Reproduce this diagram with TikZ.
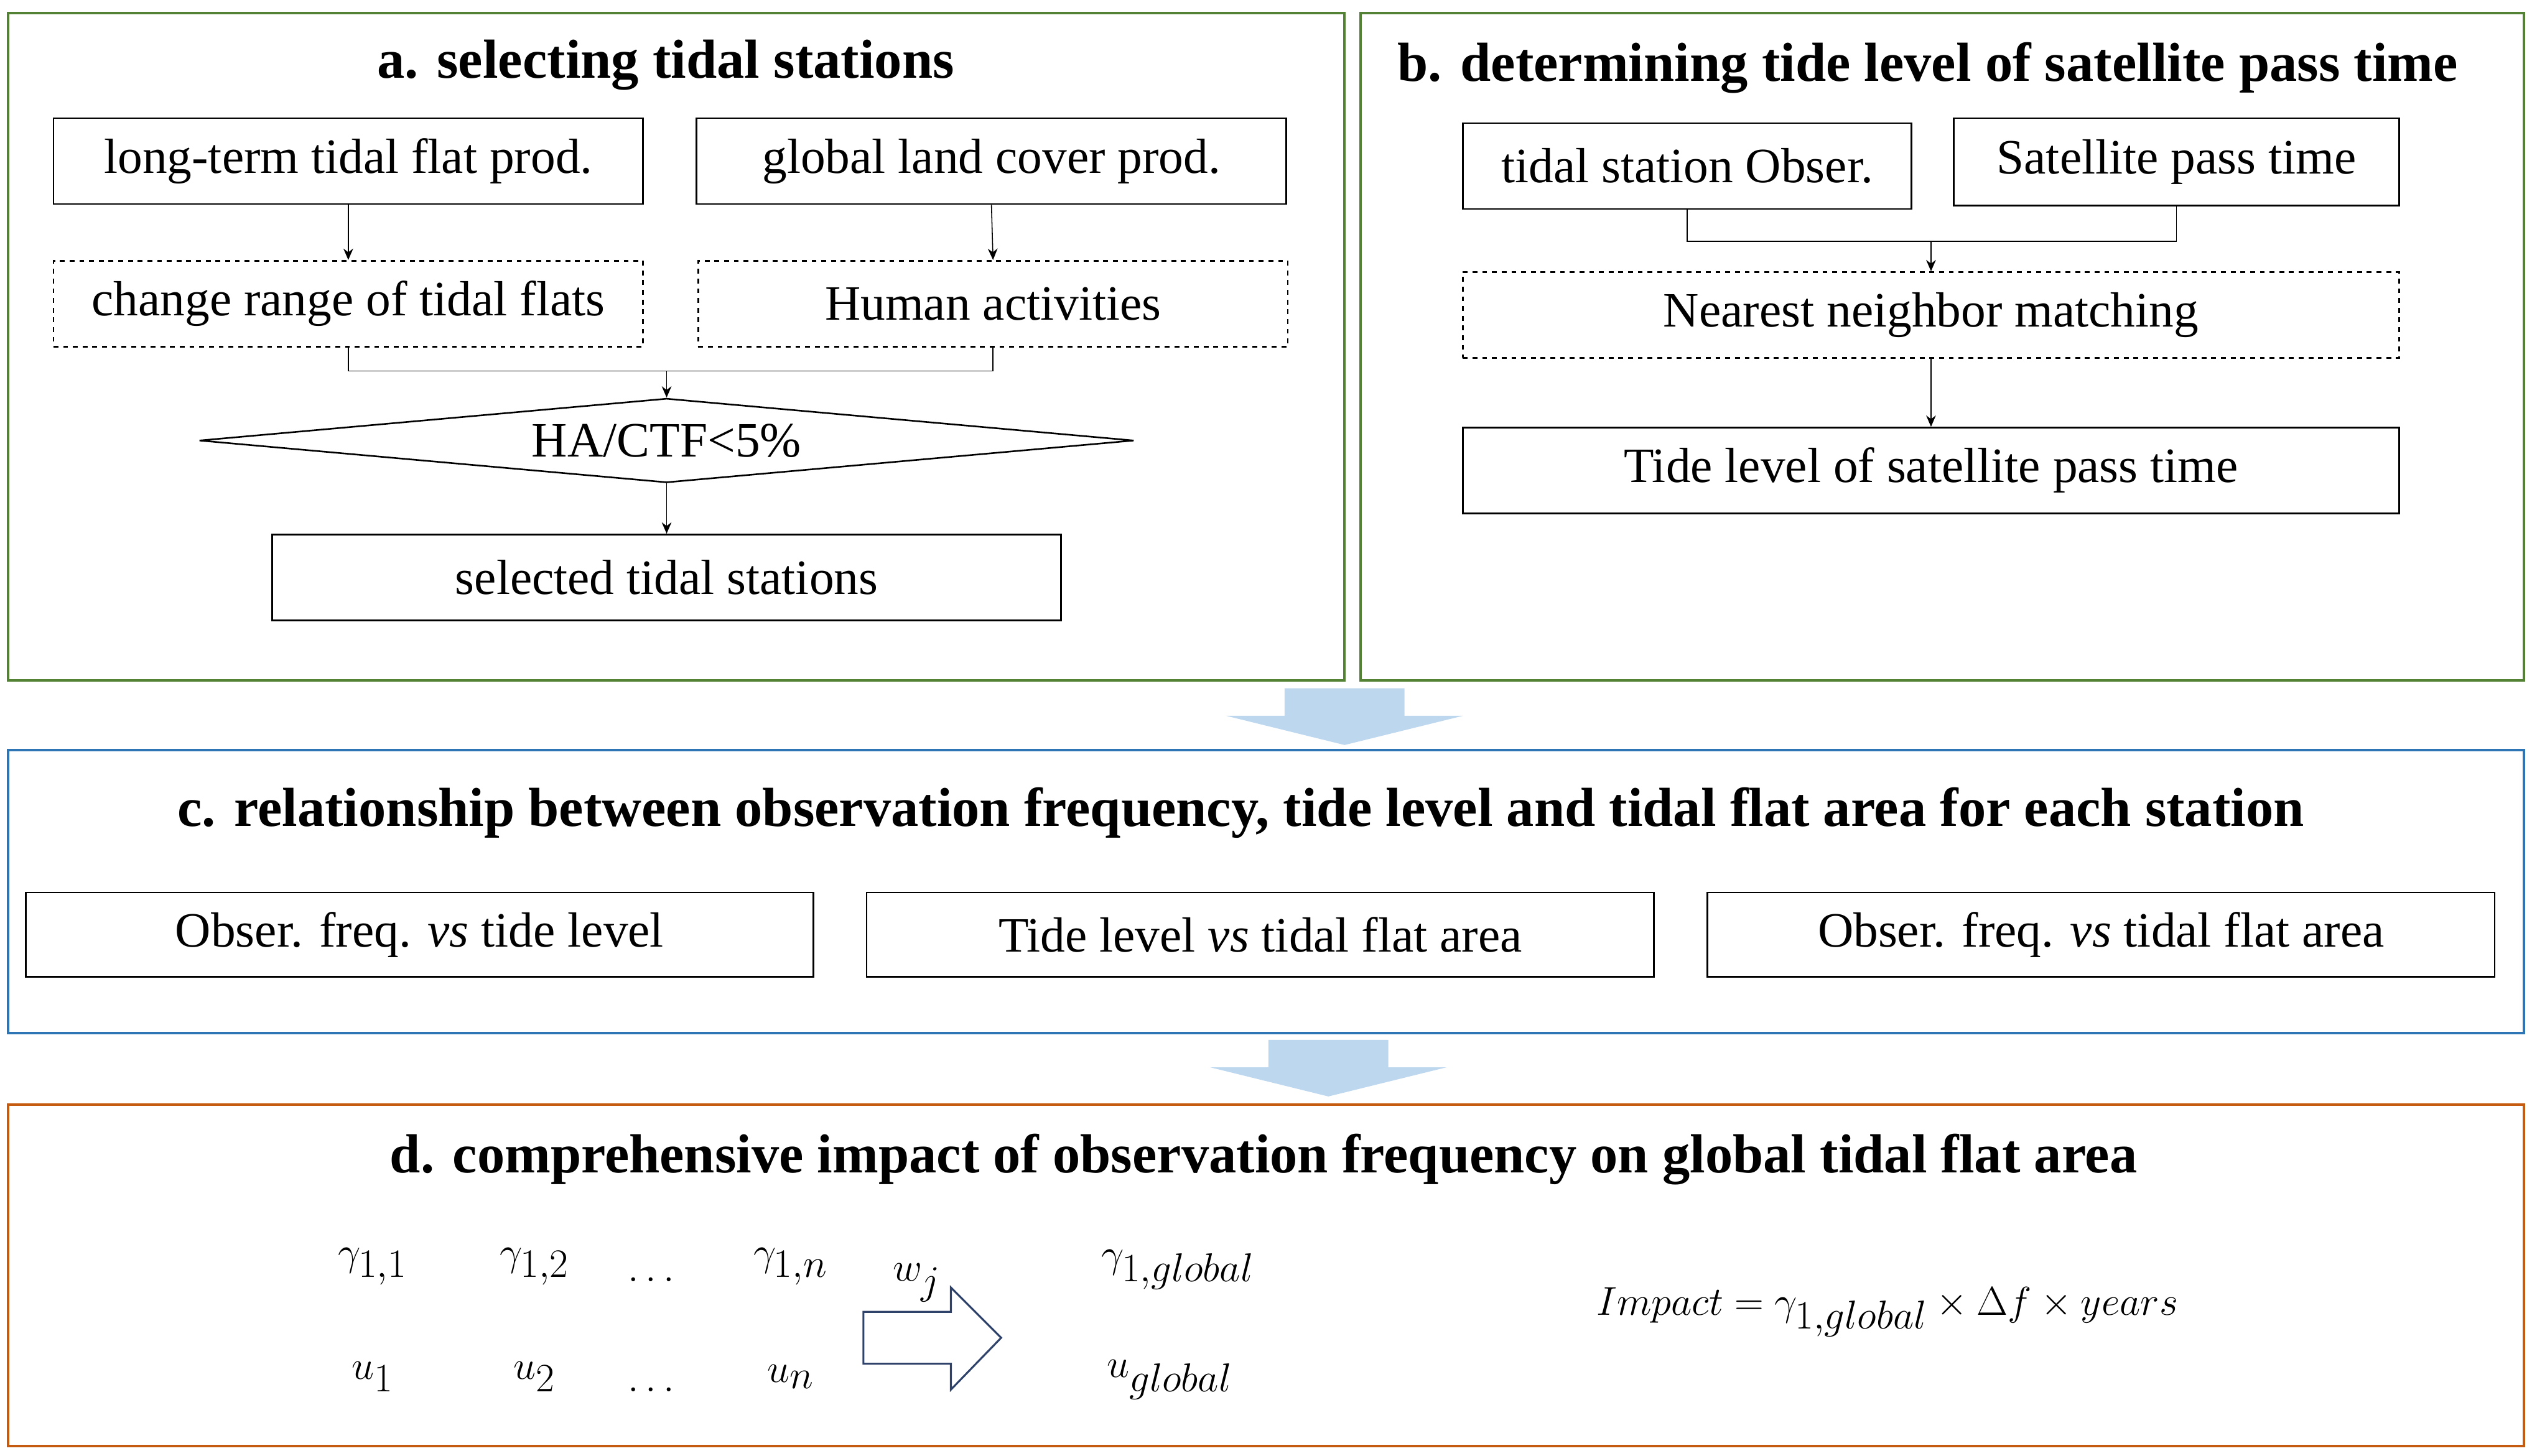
\documentclass[tikz,border=0pt]{standalone}
\usepackage{fontspec}
\setmainfont{Liberation Serif}
\usetikzlibrary{shapes.geometric,arrows.meta}
\definecolor{fgreen}{RGB}{84,130,53}
\definecolor{fblue}{RGB}{46,117,182}
\definecolor{forange}{RGB}{197,90,17}
\definecolor{lblue}{RGB}{189,215,238}
\begin{document}
\begin{tikzpicture}[x=1pt,y=-1pt,
  frame/.style={draw,line width=1.6pt},
  bx/.style={draw,line width=1pt,font=\fontsize{30.5}{34}\selectfont},
  dbx/.style={bx,dashed},
  ttl/.style={font=\fontsize{34}{38}\selectfont\bfseries},
  arr/.style={-{Stealth[length=7pt,width=6pt]},line width=0.6pt},
  ln/.style={line width=0.6pt},
  mth/.style={font=\fontsize{36}{40}\selectfont}]
\useasboundingbox (0,0) rectangle (1563,899);
\draw[frame,fgreen] (5,8) rectangle (830,420);
\draw[frame,fgreen] (840,8) rectangle (1558,420);
\draw[frame,fblue] (5,463) rectangle (1558,638);
\draw[frame,forange] (5,682) rectangle (1558,893);
\fill[lblue] (793,425)--(867,425)--(867,442)--(903,442)--(830,460)--(757,442)--(793,442)--cycle;
\fill[lblue] (783,642)--(857,642)--(857,659)--(893,659)--(820,677)--(747,659)--(783,659)--cycle;
% a
\node[ttl] (ta) at (411,40) {a. selecting tidal stations};
\node[bx,minimum width=364pt,minimum height=53pt] (a1) at (215,99.5) {long-term tidal flat prod.};
\node[bx,minimum width=364pt,minimum height=53pt] (a2) at (612,99.5) {global land cover prod.};
\node[dbx,minimum width=364pt,minimum height=53pt] (a3) at (215,187.5) {change range of tidal flats};
\node[dbx,minimum width=364pt,minimum height=53pt] (a4) at (613,187.5) {Human activities};
\node[diamond,aspect=11,draw,line width=1pt,inner sep=0pt,minimum width=577pt,minimum height=52pt,font=\fontsize{30.5}{34}\selectfont] (a5) at (411.5,272) {HA/CTF<5\%};
\node[bx,minimum width=487pt,minimum height=53pt] (a6) at (411.5,356.5) {selected tidal stations};
\draw[arr] (a1.south) -- (a3.north);
\draw[arr] (a2.south) -- (a4.north);
\coordinate (am) at (411.5,229);
\draw[ln] (a3.south) |- (am) -| (a4.south);
\draw[arr] (am) -- (a5.north);
\draw[arr] (a5.south) -- (a6.north);
% b
\node[ttl] (tb) at (1190,42) {b. determining tide level of satellite pass time};
\node[bx,minimum width=277pt,minimum height=53pt] (b1) at (1041.5,102.5) {tidal station Obser.};
\node[bx,minimum width=275pt,minimum height=54pt] (b2) at (1343.5,100) {Satellite pass time};
\node[dbx,minimum width=578pt,minimum height=53pt] (b3) at (1192,194.5) {Nearest neighbor matching};
\node[bx,minimum width=578pt,minimum height=53pt] (b4) at (1192,290.5) {Tide level of satellite pass time};
\coordinate (bm) at (1192,149);
\draw[ln] (b1.south) |- (bm) -| (b2.south);
\draw[arr] (bm) -- (b3.north);
\draw[arr] (b3.south) -- (b4.north);
% c
\node[ttl] (tc) at (766,502) {c. relationship between observation frequency, tide level and tidal flat area for each station};
\node[bx,minimum width=486pt,minimum height=52pt] (c1) at (259,577) {Obser. freq. \textit{vs} tide level};
\node[bx,minimum width=486pt,minimum height=52pt] (c2) at (778,577) {Tide level \textit{vs} tidal flat area};
\node[bx,minimum width=486pt,minimum height=52pt] (c3) at (1297,577) {Obser. freq. \textit{vs} tidal flat area};
% d
\node[ttl] (td) at (780,716) {d. comprehensive impact of observation frequency on global tidal flat area};
\node[mth] (g1) at (230,782) {$\gamma_{1,1}$};
\node[mth] (g2) at (330,782) {$\gamma_{1,2}$};
\node[mth] (gd) at (402,790) {$\ldots$};
\node[mth] (gn) at (488,782) {$\gamma_{1,n}$};
\node[mth] (u1) at (230,850) {$u_1$};
\node[mth] (u2) at (330,850) {$u_2$};
\node[mth] (ud) at (402,858) {$\ldots$};
\node[mth] (un) at (488,850) {$u_n$};
\node[mth] (wj) at (566,792) {$w_j$};
\draw[line width=1.2pt,draw={rgb,255:red,47;green,66;blue,105},fill=white] (533,810)--(587,810)--(587,795)--(618,826)--(587,858)--(587,842)--(533,842)--cycle;
\node[mth] (gg) at (727,784) {$\gamma_{1,global}$};
\node[mth] (ug) at (722,852) {$u_{global}$};
\node[mth] (imp) at (1165,810) {$Impact=\gamma_{1,global}\times\Delta f\times years$};
\end{tikzpicture}
\end{document}
